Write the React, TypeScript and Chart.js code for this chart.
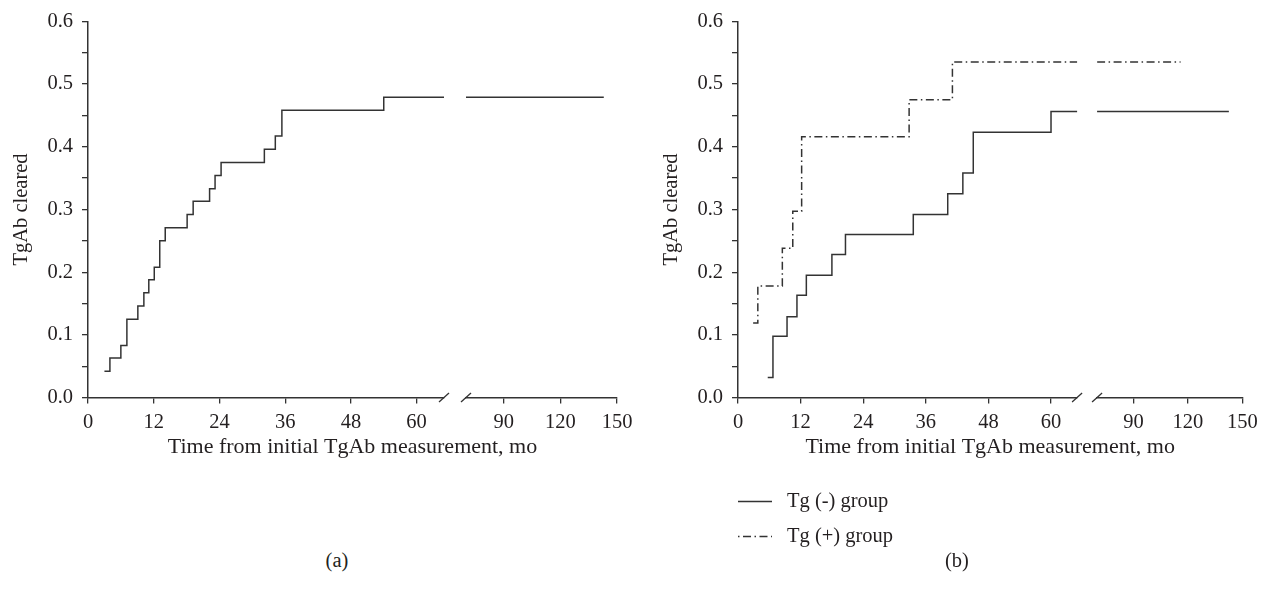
import React, { useEffect, useRef } from 'react';
import { Chart, registerables } from 'chart.js';

Chart.register(...registerables);

// ---------------- data ----------------
const X_TICKS_EARLY = [0, 12, 24, 36, 48, 60];
const X_TICKS_LATE = [90, 120, 150];
const Y_TICKS = [0, 0.05, 0.1, 0.15, 0.2, 0.25, 0.3, 0.35, 0.4, 0.45, 0.5, 0.55, 0.6];
const EARLY_RANGE = [0, 65];
const LATE_RANGE = [70, 150];

// Panel (a): all patients
const TIMES_ALL = [3, 4, 6, 7.1, 9.1, 10.2, 11.1, 12.1, 13.1, 14.1, 18.1, 19.2, 22.2, 23.2, 24.3, 32.2, 34.2, 35.4, 54];
const CLEARED_ALL = [0.042, 0.063, 0.083, 0.125, 0.146, 0.167, 0.188, 0.208, 0.25, 0.271, 0.292, 0.313, 0.333, 0.354, 0.375, 0.396, 0.417, 0.458, 0.479];
// [last time before the break, first time after the break, end of follow-up]
const FOLLOW_ALL = [65, 70, 143];

// Panel (b): Tg (-) group
const LABEL_NEG = 'Tg (-) group';
const TIMES_NEG = [5.7, 6.7, 9.4, 11.3, 13.1, 18.0, 20.6, 33.6, 40.2, 43.1, 45.1, 60.0];
const CLEARED_NEG = [0.032, 0.098, 0.129, 0.163, 0.195, 0.228, 0.26, 0.292, 0.325, 0.358, 0.423, 0.456];
const FOLLOW_NEG = [66.7, 69.7, 142.6];

// Panel (b): Tg (+) group
const LABEL_POS = 'Tg (+) group';
const TIMES_POS = [2.9, 3.8, 8.5, 10.5, 12.2, 32.8, 41.1];
const CLEARED_POS = [0.119, 0.178, 0.238, 0.297, 0.416, 0.475, 0.535];
const FOLLOW_POS = [65.5, 70, 116];

const X_TITLE = 'Time from initial TgAb measurement, mo';
const Y_TITLE = 'TgAb cleared';

// ---------------- styles ----------------
const FAMILY = "'Liberation Serif', 'Times New Roman', serif";
const INK = '#231f20';
const LINE = '#333333';
const DASH_DOT = [8, 3.5, 1.5, 3.5];

function seriesDatasets(times: number[], values: number[], follow: number[], label: string, dash: number[]) {
  const last = values[values.length - 1];
  const early = times.map((t, i) => ({ x: t, y: values[i] }));
  early.push({ x: follow[0], y: last });
  const late = [
    { x: follow[1], y: last },
    { x: follow[2], y: last },
  ];
  const common = {
    borderColor: LINE,
    borderWidth: 1.5,
    borderDash: dash,
    pointRadius: 0,
    fill: false,
    stepped: 'before',
    yAxisID: 'y',
  };
  return [
    { ...common, label, data: early, xAxisID: 'x1', showInLegend: true },
    { ...common, label, data: late, xAxisID: 'x2', showInLegend: false },
  ];
}

const breakPlugin = {
  id: 'axisBreak',
  afterDraw(chart: any) {
    const { ctx, chartArea } = chart;
    const y = chartArea.bottom;
    ctx.save();
    ctx.strokeStyle = LINE;
    ctx.lineWidth = 1.3;
    for (const x of [chart.scales.x1.right, chart.scales.x2.left]) {
      ctx.beginPath();
      ctx.moveTo(x - 5, y + 4.5);
      ctx.lineTo(x + 5, y - 4.5);
      ctx.stroke();
    }
    ctx.restore();
  },
};

const legendPlugin = {
  id: 'verticalLegend',
  afterDraw(chart: any) {
    const items = chart.data.datasets.filter((d: any) => d.showInLegend);
    if (!chart.options.plugins.verticalLegend || !chart.options.plugins.verticalLegend.display) return;
    const { ctx, chartArea } = chart;
    ctx.save();
    items.forEach((d: any, i: number) => {
      const y = chartArea.bottom + 104 + i * 35;
      const x0 = chartArea.left;
      ctx.strokeStyle = d.borderColor;
      ctx.lineWidth = d.borderWidth;
      ctx.setLineDash(d.borderDash || []);
      ctx.lineDashOffset = d.borderDash && d.borderDash.length ? d.borderDash[0] + d.borderDash[1] : 0;
      ctx.beginPath();
      ctx.moveTo(x0, y);
      ctx.lineTo(x0 + 34, y);
      ctx.stroke();
      ctx.setLineDash([]);
      ctx.fillStyle = INK;
      ctx.font = `20.5px ${FAMILY}`;
      ctx.textBaseline = 'middle';
      ctx.textAlign = 'left';
      ctx.fillText(d.label, x0 + 49, y);
    });
    ctx.restore();
  },
};

type Geometry = {
  weights: number[];
  padRight: number;
  padBottom: number;
  legend: boolean;
};

function xScale(range: number[], ticks: number[], weight: number) {
  return {
    type: 'linear',
    position: 'bottom',
    stack: 'time',
    stackWeight: weight,
    min: range[0],
    max: range[1],
    afterBuildTicks: (s: any) => {
      s.ticks = ticks.map((v) => ({ value: v }));
    },
    afterFit: (s: any) => {
      s.height = 36;
    },
    grid: { drawOnChartArea: false, drawTicks: true, tickLength: 6, color: LINE, lineWidth: 1.3 },
    border: { display: true, color: LINE, width: 1.5 },
    ticks: {
      autoSkip: false,
      maxRotation: 0,
      padding: 7,
      color: INK,
      font: { family: FAMILY, size: 20.5 },
    },
  };
}

function buildConfig(datasets: any[], g: Geometry) {
  return {
    type: 'line',
    data: { datasets },
    plugins: [breakPlugin, legendPlugin],
    options: {
      responsive: false,
      animation: false,
      events: [],
      layout: { padding: { left: 0, right: g.padRight, top: 16, bottom: g.padBottom } },
      plugins: {
        legend: { display: false },
        tooltip: { enabled: false },
        verticalLegend: { display: g.legend },
        title: {
          display: true,
          text: X_TITLE,
          position: 'bottom',
          fullSize: false,
          color: INK,
          font: { family: FAMILY, size: 22, weight: 'normal' },
          padding: { top: 0, bottom: 0 },
        },
      },
      scales: {
        x1: xScale(EARLY_RANGE, X_TICKS_EARLY, g.weights[0]),
        xgap: {
          type: 'linear',
          position: 'bottom',
          stack: 'time',
          stackWeight: g.weights[1],
          min: 0,
          max: 1,
          grid: { display: false },
          border: { display: false },
          ticks: { display: false },
          afterFit: (s: any) => {
            s.height = 36;
          },
        },
        x2: xScale(LATE_RANGE, X_TICKS_LATE, g.weights[2]),
        y: {
          type: 'linear',
          position: 'left',
          min: 0,
          max: 0.6,
          afterBuildTicks: (s: any) => {
            s.ticks = Y_TICKS.map((v) => ({ value: v }));
          },
          afterFit: (s: any) => {
            s.width = 88;
          },
          grid: { drawOnChartArea: false, drawTicks: true, tickLength: 6, color: LINE, lineWidth: 1.3 },
          border: { display: true, color: LINE, width: 1.5 },
          ticks: {
            padding: 9,
            color: INK,
            font: { family: FAMILY, size: 20.5 },
            callback: (v: number) => (Math.round(v * 100) % 10 === 0 ? v.toFixed(1) : ''),
          },
          title: {
            display: true,
            text: Y_TITLE,
            color: INK,
            font: { family: FAMILY, size: 20.5 },
            padding: { top: 9, bottom: 0 },
          },
        },
      },
    },
  };
}

function Panel(props: { left: number; width: number; height: number; datasets: any[]; geometry: Geometry }) {
  const ref = useRef<HTMLCanvasElement | null>(null);
  useEffect(() => {
    if (!ref.current) return;
    const chart = new Chart(ref.current, buildConfig(props.datasets, props.geometry) as any);
    return () => chart.destroy();
  }, []);
  return (
    <canvas
      ref={ref}
      width={props.width}
      height={props.height}
      style={{ position: 'absolute', left: props.left, top: 0, width: props.width, height: props.height, display: 'block' }}
    />
  );
}

const captionStyle = (center: number): React.CSSProperties => ({
  position: 'absolute',
  left: center - 30,
  width: 60,
  top: 548,
  lineHeight: '24px',
  textAlign: 'center',
  fontFamily: FAMILY,
  fontSize: 20.5,
  color: INK,
});

export default function App() {
  const datasetsA = seriesDatasets(TIMES_ALL, CLEARED_ALL, FOLLOW_ALL, 'All patients', []);
  const datasetsB = [
    ...seriesDatasets(TIMES_NEG, CLEARED_NEG, FOLLOW_NEG, LABEL_NEG, []),
    ...seriesDatasets(TIMES_POS, CLEARED_POS, FOLLOW_POS, LABEL_POS, DASH_DOT),
  ];
  return (
    <div style={{ position: 'absolute', left: 0, top: 0, width: 1266, height: 590, background: '#fff', overflow: 'hidden' }}>
      <Panel
        left={0}
        width={650}
        height={470}
        datasets={datasetsA}
        geometry={{ weights: [356, 22, 151], padRight: 33, padBottom: 10, legend: false }}
      />
      <Panel
        left={650}
        width={616}
        height={560}
        datasets={datasetsB}
        geometry={{ weights: [339.3, 20, 145.3], padRight: 23.7, padBottom: 100, legend: true }}
      />
      <div style={captionStyle(337)}>(a)</div>
      <div style={captionStyle(957)}>(b)</div>
    </div>
  );
}
